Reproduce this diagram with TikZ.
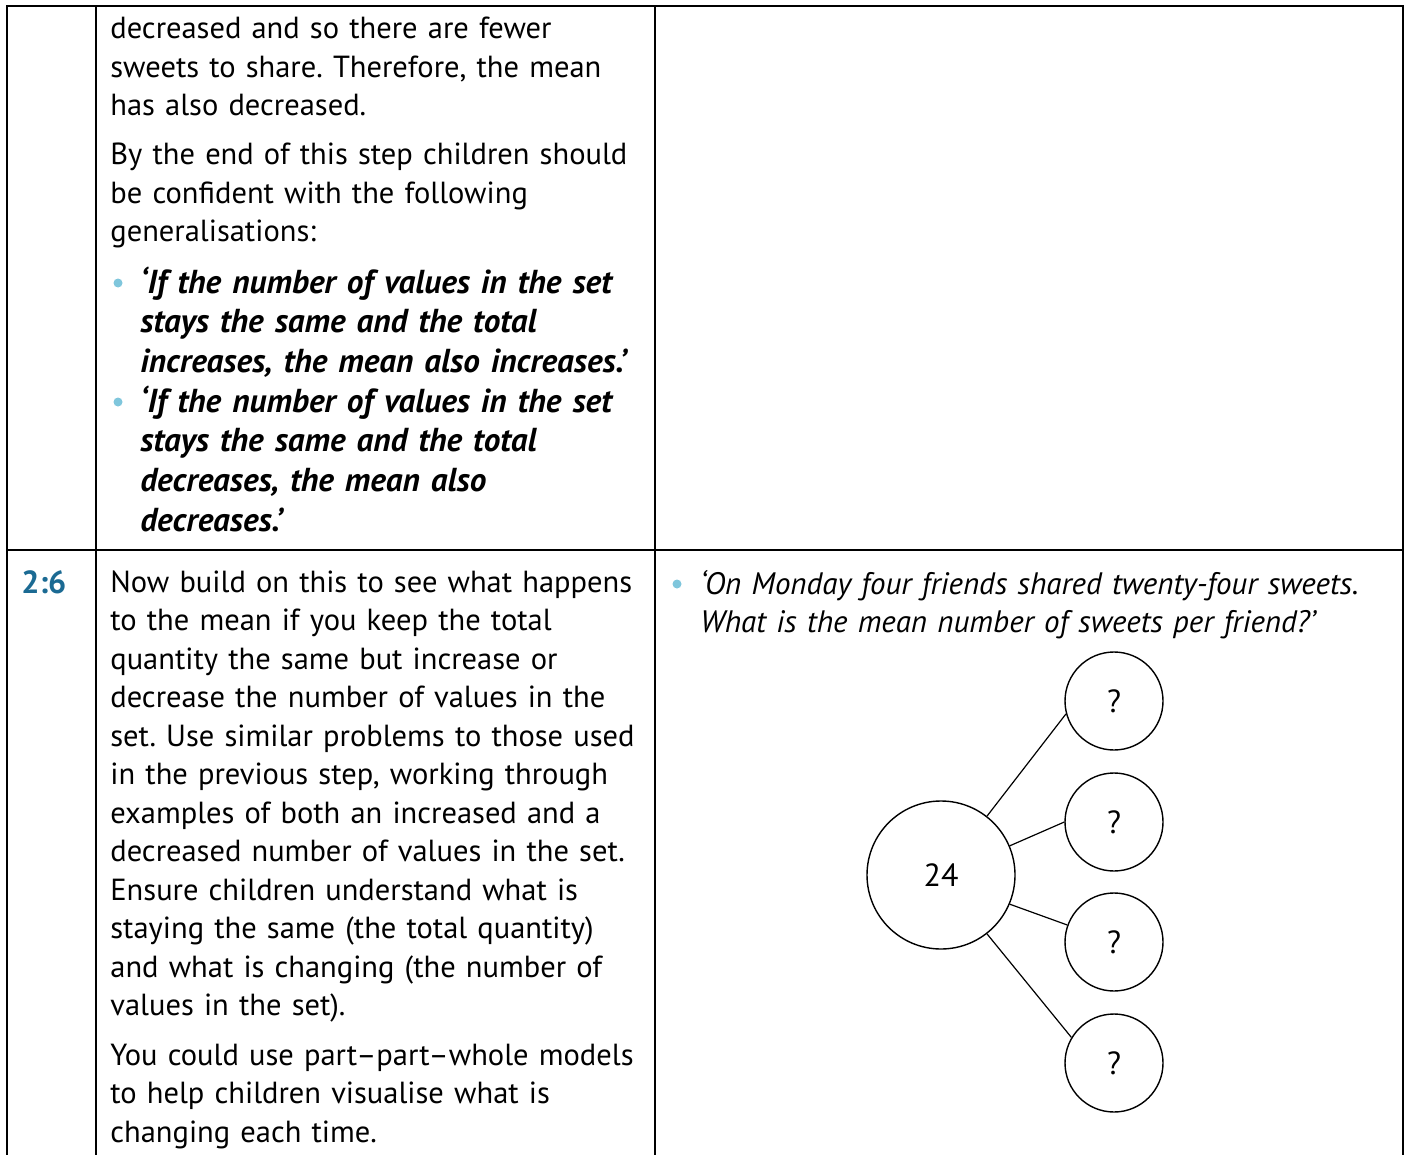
\documentclass[tikz,border=0pt]{standalone}
\usepackage{fontspec}
\setmainfont{PT Sans}[WordSpace=0.7]
\usepackage{tikz}
\usetikzlibrary{shapes,arrows,positioning}
\definecolor{dotblue}{HTML}{7FC6DC}
\definecolor{stepblue}{HTML}{1B6A93}
\frenchspacing

\begin{document}
\begin{tikzpicture}[x=0.5pt,y=-0.5pt,
	rule/.style={line width=1pt,black},
	body/.style={anchor=base west,inner sep=0pt,align=left,text width=300pt,
		font={\fontsize{15.25}{19.25}\selectfont}},
	claim/.style={body,font={\fontsize{16.6}{19.85}\selectfont\bfseries\itshape}},
	prompt/.style={body,text width=360pt,font={\fontsize{15.5}{19}\selectfont\itshape}},
	dot/.style={circle,fill=dotblue,inner sep=0pt,minimum size=4.5pt},
	whole/.style={circle,draw,line width=0.7pt,minimum size=74pt,inner sep=0pt,font={\fontsize{16}{18}\selectfont}},
	part/.style={circle,draw,line width=0.7pt,minimum size=49pt,inner sep=0pt,font={\fontsize{16}{18}\selectfont}}]
	\useasboundingbox (0,0) rectangle (1407,1155);
	% the table
	\draw[rule] (7,1155) -- (7,6) -- (1403,6) -- (1403,1155);
	\draw[rule] (96,6) -- (96,1155);
	\draw[rule] (655,6) -- (655,1155);
	\draw[rule] (7,550) -- (1403,550);
	%% first row
	\node[body] (endtext) at (110,39) {decreased and so there are fewer\\sweets to share. Therefore, the mean\\has also decreased.};
	\node[body] (general) at (110,165) {By the end of this step children should\\be confident with the following\\generalisations:};
	\node[dot] (dota) at (118,283) {};
	\node[claim] (claima) at (140,293) {‘If the number of values in the set\\stays the same and the total\\increases, the mean also increases.’};
	\node[dot] (dotb) at (118,402) {};
	\node[claim] (claimb) at (140,412) {‘If the number of values in the set\\stays the same and the total\\decreases, the mean also\\decreases.’};
	%% second row
	\node[anchor=base west,inner sep=0pt,text=stepblue,font={\fontsize{16}{19}\selectfont\bfseries}] (stepno) at (21,593) {2:6};
	\node[body] (build) at (110,592) {Now build on this to see what happens\\to the mean if you keep the total\\quantity the same but increase or\\decrease the number of values in the\\set. Use similar problems to those used\\in the previous step, working through\\examples of both an increased and a\\decreased number of values in the set.\\Ensure children understand what is\\staying the same (the total quantity)\\and what is changing (the number of\\values in the set).};
	\node[body] (models) at (110,1065) {You could use part--part--whole models\\to help children visualise what is\\changing each time.};
	\node[dot] (dotc) at (677,584) {};
	\node[prompt] (monday) at (700,594) {‘On Monday four friends shared twenty-four sweets.\\What is the mean number of sweets per friend?’};
	%% the part-whole model
	\node[whole] (total) at (941,875) {24};
	\node[part] (parta) at (1114,701) {?};
	\node[part] (partb) at (1114,822) {?};
	\node[part] (partc) at (1114,942) {?};
	\node[part] (partd) at (1114,1063) {?};
	\draw[line width=0.6pt] (total.52) -- (parta.195);
	\draw[line width=0.6pt] (total.23) -- (partb.180);
	\draw[line width=0.6pt] (total.-23) -- (partc.160);
	\draw[line width=0.6pt] (total.-52) -- (partd.149);
\end{tikzpicture}
\end{document}
